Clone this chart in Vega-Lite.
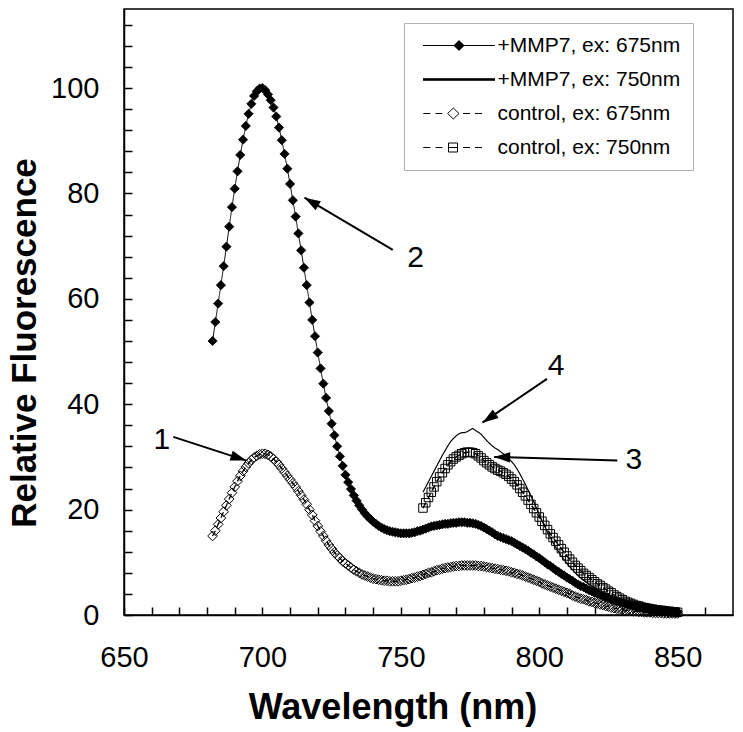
{
  "$schema": "https://vega.github.io/schema/vega-lite/v6.json",
  "width": 609,
  "height": 606,
  "autosize": {"type": "none"},
  "padding": {"left": 124, "top": 9, "right": 10, "bottom": 117},
  "config": {
    "view": {"stroke": "black", "strokeWidth": 1.5},
    "font": "Liberation Sans",
    "legend": {
      "orient": "none", "title": null, "padding": 12, "strokeColor": "#b0b0b0", "fillColor": "white",
      "labelFont": "Liberation Sans", "labelFontSize": 21, "labelColor": "black", "labelLimit": 0,
      "rowPadding": 12, "symbolSize": 400, "symbolStrokeWidth": 1, "symbolOpacity": 1,
      "symbolOffset": 32.5, "labelOffset": 28
    }
  },
  "resolve": {"axis": {"x": "independent", "y": "independent"}, "scale": {"shape": "independent"}, "legend": {"shape": "independent"}},
  "datasets": {
    "ann": [
      {"lab": "1", "tx": 663.7, "ty": 33.3, "x1": 667.8, "y1": 33.8, "x2": 694.2, "y2": 29.3},
      {"lab": "2", "tx": 755.3, "ty": 67.8, "x1": 747.1, "y1": 69.3, "x2": 715.2, "y2": 79.2},
      {"lab": "3", "tx": 834.2, "ty": 29.5, "x1": 828.2, "y1": 29.3, "x2": 783.7, "y2": 30.0},
      {"lab": "4", "tx": 806.1, "ty": 47.2, "x1": 802.8, "y1": 44.8, "x2": 779.5, "y2": 36.5}
    ],
    "spec": [
      {"s":"a","w":682,"v":52.0},{"s":"a","w":683,"v":55.6},{"s":"a","w":684,"v":59.1},{"s":"a","w":685,"v":62.6},{"s":"a","w":686,"v":66.2},{"s":"a","w":687,"v":69.9},{"s":"a","w":688,"v":73.7},{"s":"a","w":689,"v":77.4},{"s":"a","w":690,"v":80.9},{"s":"a","w":691,"v":84.2},
      {"s":"a","w":692,"v":87.3},{"s":"a","w":693,"v":90.2},{"s":"a","w":694,"v":92.8},{"s":"a","w":695,"v":95.1},{"s":"a","w":696,"v":97.0},{"s":"a","w":697,"v":98.5},{"s":"a","w":698,"v":99.4},{"s":"a","w":699,"v":99.9},{"s":"a","w":700,"v":100},{"s":"a","w":701,"v":99.6},
      {"s":"a","w":702,"v":98.8},{"s":"a","w":703,"v":97.7},{"s":"a","w":704,"v":96.3},{"s":"a","w":705,"v":94.6},{"s":"a","w":706,"v":92.5},{"s":"a","w":707,"v":90.1},{"s":"a","w":708,"v":87.5},{"s":"a","w":709,"v":84.7},{"s":"a","w":710,"v":81.8},{"s":"a","w":711,"v":78.7},
      {"s":"a","w":712,"v":75.6},{"s":"a","w":713,"v":72.4},{"s":"a","w":714,"v":69.2},{"s":"a","w":715,"v":65.9},{"s":"a","w":716,"v":62.6},{"s":"a","w":717,"v":59.3},{"s":"a","w":718,"v":56.0},{"s":"a","w":719,"v":52.9},{"s":"a","w":720,"v":49.8},{"s":"a","w":721,"v":46.8},
      {"s":"a","w":722,"v":43.9},{"s":"a","w":723,"v":41.2},{"s":"a","w":724,"v":38.7},{"s":"a","w":725,"v":36.3},{"s":"a","w":726,"v":34.1},{"s":"a","w":727,"v":32.0},{"s":"a","w":728,"v":30.1},{"s":"a","w":729,"v":28.3},{"s":"a","w":730,"v":26.6},{"s":"a","w":731,"v":25.2},
      {"s":"a","w":732,"v":23.9},{"s":"a","w":733,"v":22.7},{"s":"a","w":734,"v":21.7},{"s":"a","w":735,"v":20.8},{"s":"a","w":736,"v":20.0},{"s":"a","w":737,"v":19.3},{"s":"a","w":738,"v":18.7},{"s":"a","w":739,"v":18.2},{"s":"a","w":740,"v":17.7},{"s":"a","w":741,"v":17.3},
      {"s":"a","w":742,"v":16.9},{"s":"a","w":743,"v":16.6},{"s":"a","w":744,"v":16.3},{"s":"a","w":745,"v":16.1},{"s":"a","w":746,"v":15.9},{"s":"a","w":747,"v":15.8},{"s":"a","w":748,"v":15.7},{"s":"a","w":749,"v":15.6},{"s":"a","w":750,"v":15.5},{"s":"a","w":751,"v":15.5},
      {"s":"a","w":752,"v":15.5},{"s":"a","w":753,"v":15.5},{"s":"a","w":754,"v":15.6},{"s":"a","w":755,"v":15.7},{"s":"a","w":756,"v":15.9},{"s":"a","w":757,"v":16.0},{"s":"a","w":758,"v":16.2},{"s":"a","w":759,"v":16.4},{"s":"a","w":760,"v":16.6},{"s":"a","w":761,"v":16.8},
      {"s":"a","w":762,"v":16.9},{"s":"a","w":763,"v":17.0},{"s":"a","w":764,"v":17.1},{"s":"a","w":765,"v":17.2},{"s":"a","w":766,"v":17.3},{"s":"a","w":767,"v":17.3},{"s":"a","w":768,"v":17.4},{"s":"a","w":769,"v":17.5},{"s":"a","w":770,"v":17.5},{"s":"a","w":771,"v":17.6},
      {"s":"a","w":772,"v":17.6},{"s":"a","w":773,"v":17.6},{"s":"a","w":774,"v":17.5},{"s":"a","w":775,"v":17.5},{"s":"a","w":776,"v":17.4},{"s":"a","w":777,"v":17.3},{"s":"a","w":778,"v":17.1},{"s":"a","w":779,"v":16.9},{"s":"a","w":780,"v":16.6},{"s":"a","w":781,"v":16.3},
      {"s":"a","w":782,"v":16.0},{"s":"a","w":783,"v":15.7},{"s":"a","w":784,"v":15.3},{"s":"a","w":785,"v":15.0},{"s":"a","w":786,"v":14.8},{"s":"a","w":787,"v":14.6},{"s":"a","w":788,"v":14.4},{"s":"a","w":789,"v":14.2},{"s":"a","w":790,"v":14.0},{"s":"a","w":791,"v":13.7},
      {"s":"a","w":792,"v":13.4},{"s":"a","w":793,"v":13.1},{"s":"a","w":794,"v":12.8},{"s":"a","w":795,"v":12.5},{"s":"a","w":796,"v":12.2},{"s":"a","w":797,"v":11.8},{"s":"a","w":798,"v":11.5},{"s":"a","w":799,"v":11.1},{"s":"a","w":800,"v":10.8},{"s":"a","w":801,"v":10.4},
      {"s":"a","w":802,"v":10.0},{"s":"a","w":803,"v":9.6},{"s":"a","w":804,"v":9.3},{"s":"a","w":805,"v":8.9},{"s":"a","w":806,"v":8.5},{"s":"a","w":807,"v":8.2},{"s":"a","w":808,"v":7.8},{"s":"a","w":809,"v":7.5},{"s":"a","w":810,"v":7.1},{"s":"a","w":811,"v":6.8},
      {"s":"a","w":812,"v":6.5},{"s":"a","w":813,"v":6.1},{"s":"a","w":814,"v":5.8},{"s":"a","w":815,"v":5.5},{"s":"a","w":816,"v":5.3},{"s":"a","w":817,"v":5.0},{"s":"a","w":818,"v":4.7},{"s":"a","w":819,"v":4.5},{"s":"a","w":820,"v":4.2},{"s":"a","w":821,"v":4.0},
      {"s":"a","w":822,"v":3.8},{"s":"a","w":823,"v":3.6},{"s":"a","w":824,"v":3.4},{"s":"a","w":825,"v":3.2},{"s":"a","w":826,"v":3.0},{"s":"a","w":827,"v":2.8},{"s":"a","w":828,"v":2.6},{"s":"a","w":829,"v":2.5},{"s":"a","w":830,"v":2.3},{"s":"a","w":831,"v":2.2},
      {"s":"a","w":832,"v":2.0},{"s":"a","w":833,"v":1.9},{"s":"a","w":834,"v":1.8},{"s":"a","w":835,"v":1.7},{"s":"a","w":836,"v":1.6},{"s":"a","w":837,"v":1.5},{"s":"a","w":838,"v":1.4},{"s":"a","w":839,"v":1.3},{"s":"a","w":840,"v":1.2},{"s":"a","w":841,"v":1.1},
      {"s":"a","w":842,"v":1.0},{"s":"a","w":843,"v":1.0},{"s":"a","w":844,"v":0.9},{"s":"a","w":845,"v":0.8},{"s":"a","w":846,"v":0.8},{"s":"a","w":847,"v":0.7},{"s":"a","w":848,"v":0.7},{"s":"a","w":849,"v":0.6},{"s":"a","w":850,"v":0.6},

      {"s":"b","w":758,"v":23.3},{"s":"b","w":759,"v":24.3},{"s":"b","w":760,"v":25.3},{"s":"b","w":761,"v":26.3},{"s":"b","w":762,"v":27.3},{"s":"b","w":763,"v":28.3},{"s":"b","w":764,"v":29.3},{"s":"b","w":765,"v":30.3},{"s":"b","w":766,"v":31.2},{"s":"b","w":767,"v":32.1},
      {"s":"b","w":768,"v":32.9},{"s":"b","w":769,"v":33.5},{"s":"b","w":770,"v":34.0},{"s":"b","w":771,"v":34.4},{"s":"b","w":772,"v":34.6},{"s":"b","w":773,"v":34.6},{"s":"b","w":774,"v":34.8},{"s":"b","w":775,"v":35.1},{"s":"b","w":776,"v":35.4},{"s":"b","w":777,"v":35.0},
      {"s":"b","w":778,"v":34.7},{"s":"b","w":779,"v":34.3},{"s":"b","w":780,"v":33.7},{"s":"b","w":781,"v":33.1},{"s":"b","w":782,"v":32.6},{"s":"b","w":783,"v":32.1},{"s":"b","w":784,"v":31.7},{"s":"b","w":785,"v":31.4},{"s":"b","w":786,"v":31.0},{"s":"b","w":787,"v":30.6},
      {"s":"b","w":788,"v":30.2},{"s":"b","w":789,"v":29.7},{"s":"b","w":790,"v":29.1},{"s":"b","w":791,"v":28.5},{"s":"b","w":792,"v":27.7},{"s":"b","w":793,"v":26.8},{"s":"b","w":794,"v":25.8},{"s":"b","w":795,"v":24.8},{"s":"b","w":796,"v":23.7},{"s":"b","w":797,"v":22.6},
      {"s":"b","w":798,"v":21.5},{"s":"b","w":799,"v":20.3},{"s":"b","w":800,"v":19.1},{"s":"b","w":801,"v":17.9},{"s":"b","w":802,"v":16.8},{"s":"b","w":803,"v":15.7},{"s":"b","w":804,"v":14.7},{"s":"b","w":805,"v":13.7},{"s":"b","w":806,"v":12.8},{"s":"b","w":807,"v":12.0},
      {"s":"b","w":808,"v":11.2},{"s":"b","w":809,"v":10.5},{"s":"b","w":810,"v":9.8},{"s":"b","w":811,"v":9.2},{"s":"b","w":812,"v":8.6},{"s":"b","w":813,"v":8.0},{"s":"b","w":814,"v":7.5},{"s":"b","w":815,"v":7.0},{"s":"b","w":816,"v":6.6},{"s":"b","w":817,"v":6.2},
      {"s":"b","w":818,"v":5.8},{"s":"b","w":819,"v":5.5},{"s":"b","w":820,"v":5.2},{"s":"b","w":821,"v":4.9},{"s":"b","w":822,"v":4.6},{"s":"b","w":823,"v":4.3},{"s":"b","w":824,"v":4.0},{"s":"b","w":825,"v":3.8},{"s":"b","w":826,"v":3.5},{"s":"b","w":827,"v":3.3},
      {"s":"b","w":828,"v":3.1},{"s":"b","w":829,"v":2.9},{"s":"b","w":830,"v":2.7},{"s":"b","w":831,"v":2.5},{"s":"b","w":832,"v":2.3},{"s":"b","w":833,"v":2.2},{"s":"b","w":834,"v":2.0},{"s":"b","w":835,"v":1.9},{"s":"b","w":836,"v":1.7},{"s":"b","w":837,"v":1.6},
      {"s":"b","w":838,"v":1.5},{"s":"b","w":839,"v":1.4},{"s":"b","w":840,"v":1.3},{"s":"b","w":841,"v":1.2},{"s":"b","w":842,"v":1.1},{"s":"b","w":843,"v":1.0},{"s":"b","w":844,"v":0.9},{"s":"b","w":845,"v":0.9},{"s":"b","w":846,"v":0.8},{"s":"b","w":847,"v":0.7},
      {"s":"b","w":848,"v":0.7},{"s":"b","w":849,"v":0.6},{"s":"b","w":850,"v":0.6},

      {"s":"c","w":682,"v":15.0},{"s":"c","w":683,"v":16.0},{"s":"c","w":684,"v":17.2},{"s":"c","w":685,"v":18.4},{"s":"c","w":686,"v":19.6},{"s":"c","w":687,"v":20.8},{"s":"c","w":688,"v":22.0},{"s":"c","w":689,"v":23.2},{"s":"c","w":690,"v":24.3},{"s":"c","w":691,"v":25.4},
      {"s":"c","w":692,"v":26.4},{"s":"c","w":693,"v":27.3},{"s":"c","w":694,"v":28.1},{"s":"c","w":695,"v":28.8},{"s":"c","w":696,"v":29.4},{"s":"c","w":697,"v":29.9},{"s":"c","w":698,"v":30.2},{"s":"c","w":699,"v":30.5},{"s":"c","w":700,"v":30.6},{"s":"c","w":701,"v":30.6},
      {"s":"c","w":702,"v":30.4},{"s":"c","w":703,"v":30.1},{"s":"c","w":704,"v":29.6},{"s":"c","w":705,"v":29.1},{"s":"c","w":706,"v":28.5},{"s":"c","w":707,"v":27.8},{"s":"c","w":708,"v":27.1},{"s":"c","w":709,"v":26.4},{"s":"c","w":710,"v":25.7},{"s":"c","w":711,"v":25.0},
      {"s":"c","w":712,"v":24.3},{"s":"c","w":713,"v":23.5},{"s":"c","w":714,"v":22.7},{"s":"c","w":715,"v":21.9},{"s":"c","w":716,"v":21.0},{"s":"c","w":717,"v":20.0},{"s":"c","w":718,"v":19.0},{"s":"c","w":719,"v":17.9},{"s":"c","w":720,"v":16.9},{"s":"c","w":721,"v":15.9},
      {"s":"c","w":722,"v":15.0},{"s":"c","w":723,"v":14.1},{"s":"c","w":724,"v":13.3},{"s":"c","w":725,"v":12.6},{"s":"c","w":726,"v":11.9},{"s":"c","w":727,"v":11.3},{"s":"c","w":728,"v":10.8},{"s":"c","w":729,"v":10.2},{"s":"c","w":730,"v":9.8},{"s":"c","w":731,"v":9.4},
      {"s":"c","w":732,"v":9.0},{"s":"c","w":733,"v":8.6},{"s":"c","w":734,"v":8.3},{"s":"c","w":735,"v":8.0},{"s":"c","w":736,"v":7.7},{"s":"c","w":737,"v":7.5},{"s":"c","w":738,"v":7.3},{"s":"c","w":739,"v":7.1},{"s":"c","w":740,"v":6.9},{"s":"c","w":741,"v":6.8},
      {"s":"c","w":742,"v":6.7},{"s":"c","w":743,"v":6.6},{"s":"c","w":744,"v":6.5},{"s":"c","w":745,"v":6.5},{"s":"c","w":746,"v":6.4},{"s":"c","w":747,"v":6.4},{"s":"c","w":748,"v":6.4},{"s":"c","w":749,"v":6.4},{"s":"c","w":750,"v":6.5},{"s":"c","w":751,"v":6.6},
      {"s":"c","w":752,"v":6.7},{"s":"c","w":753,"v":6.8},{"s":"c","w":754,"v":7.0},{"s":"c","w":755,"v":7.1},{"s":"c","w":756,"v":7.3},{"s":"c","w":757,"v":7.4},{"s":"c","w":758,"v":7.6},{"s":"c","w":759,"v":7.8},{"s":"c","w":760,"v":8.0},{"s":"c","w":761,"v":8.1},
      {"s":"c","w":762,"v":8.3},{"s":"c","w":763,"v":8.5},{"s":"c","w":764,"v":8.6},{"s":"c","w":765,"v":8.8},{"s":"c","w":766,"v":8.9},{"s":"c","w":767,"v":9.0},{"s":"c","w":768,"v":9.1},{"s":"c","w":769,"v":9.2},{"s":"c","w":770,"v":9.3},{"s":"c","w":771,"v":9.3},
      {"s":"c","w":772,"v":9.4},{"s":"c","w":773,"v":9.4},{"s":"c","w":774,"v":9.4},{"s":"c","w":775,"v":9.4},{"s":"c","w":776,"v":9.4},{"s":"c","w":777,"v":9.4},{"s":"c","w":778,"v":9.3},{"s":"c","w":779,"v":9.3},{"s":"c","w":780,"v":9.2},{"s":"c","w":781,"v":9.1},
      {"s":"c","w":782,"v":9.0},{"s":"c","w":783,"v":8.9},{"s":"c","w":784,"v":8.8},{"s":"c","w":785,"v":8.7},{"s":"c","w":786,"v":8.6},{"s":"c","w":787,"v":8.5},{"s":"c","w":788,"v":8.4},{"s":"c","w":789,"v":8.3},{"s":"c","w":790,"v":8.1},{"s":"c","w":791,"v":8.0},
      {"s":"c","w":792,"v":7.8},{"s":"c","w":793,"v":7.7},{"s":"c","w":794,"v":7.5},{"s":"c","w":795,"v":7.3},{"s":"c","w":796,"v":7.1},{"s":"c","w":797,"v":6.9},{"s":"c","w":798,"v":6.7},{"s":"c","w":799,"v":6.5},{"s":"c","w":800,"v":6.3},{"s":"c","w":801,"v":6.0},
      {"s":"c","w":802,"v":5.8},{"s":"c","w":803,"v":5.6},{"s":"c","w":804,"v":5.4},{"s":"c","w":805,"v":5.2},{"s":"c","w":806,"v":5.0},{"s":"c","w":807,"v":4.8},{"s":"c","w":808,"v":4.6},{"s":"c","w":809,"v":4.4},{"s":"c","w":810,"v":4.2},{"s":"c","w":811,"v":4.0},
      {"s":"c","w":812,"v":3.7},{"s":"c","w":813,"v":3.5},{"s":"c","w":814,"v":3.3},{"s":"c","w":815,"v":3.1},{"s":"c","w":816,"v":3.0},{"s":"c","w":817,"v":2.8},{"s":"c","w":818,"v":2.6},{"s":"c","w":819,"v":2.5},{"s":"c","w":820,"v":2.3},{"s":"c","w":821,"v":2.2},
      {"s":"c","w":822,"v":2.0},{"s":"c","w":823,"v":1.9},{"s":"c","w":824,"v":1.7},{"s":"c","w":825,"v":1.6},{"s":"c","w":826,"v":1.4},{"s":"c","w":827,"v":1.3},{"s":"c","w":828,"v":1.2},{"s":"c","w":829,"v":1.1},{"s":"c","w":830,"v":1.0},{"s":"c","w":831,"v":0.9},
      {"s":"c","w":832,"v":0.9},{"s":"c","w":833,"v":0.8},{"s":"c","w":834,"v":0.7},{"s":"c","w":835,"v":0.7},{"s":"c","w":836,"v":0.6},{"s":"c","w":837,"v":0.6},{"s":"c","w":838,"v":0.5},{"s":"c","w":839,"v":0.5},{"s":"c","w":840,"v":0.5},{"s":"c","w":841,"v":0.4},
      {"s":"c","w":842,"v":0.4},{"s":"c","w":843,"v":0.4},{"s":"c","w":844,"v":0.4},{"s":"c","w":845,"v":0.3},{"s":"c","w":846,"v":0.3},{"s":"c","w":847,"v":0.3},{"s":"c","w":848,"v":0.3},{"s":"c","w":849,"v":0.3},{"s":"c","w":850,"v":0.3},

      {"s":"d","w":758,"v":20.3},{"s":"d","w":759,"v":21.3},{"s":"d","w":760,"v":22.3},{"s":"d","w":761,"v":23.3},{"s":"d","w":762,"v":24.3},{"s":"d","w":763,"v":25.3},{"s":"d","w":764,"v":26.2},{"s":"d","w":765,"v":27.0},{"s":"d","w":766,"v":27.8},{"s":"d","w":767,"v":28.5},
      {"s":"d","w":768,"v":29.1},{"s":"d","w":769,"v":29.6},{"s":"d","w":770,"v":30.0},{"s":"d","w":771,"v":30.3},{"s":"d","w":772,"v":30.6},{"s":"d","w":773,"v":30.8},{"s":"d","w":774,"v":30.9},{"s":"d","w":775,"v":30.9},{"s":"d","w":776,"v":30.8},{"s":"d","w":777,"v":30.6},
      {"s":"d","w":778,"v":30.2},{"s":"d","w":779,"v":29.8},{"s":"d","w":780,"v":29.3},{"s":"d","w":781,"v":28.9},{"s":"d","w":782,"v":28.5},{"s":"d","w":783,"v":28.1},{"s":"d","w":784,"v":27.8},{"s":"d","w":785,"v":27.5},{"s":"d","w":786,"v":27.3},{"s":"d","w":787,"v":27.0},
      {"s":"d","w":788,"v":26.7},{"s":"d","w":789,"v":26.3},{"s":"d","w":790,"v":25.8},{"s":"d","w":791,"v":25.3},{"s":"d","w":792,"v":24.7},{"s":"d","w":793,"v":24.0},{"s":"d","w":794,"v":23.3},{"s":"d","w":795,"v":22.6},{"s":"d","w":796,"v":21.8},{"s":"d","w":797,"v":21.0},
      {"s":"d","w":798,"v":20.2},{"s":"d","w":799,"v":19.4},{"s":"d","w":800,"v":18.6},{"s":"d","w":801,"v":17.8},{"s":"d","w":802,"v":17.0},{"s":"d","w":803,"v":16.2},{"s":"d","w":804,"v":15.4},{"s":"d","w":805,"v":14.7},{"s":"d","w":806,"v":14.0},{"s":"d","w":807,"v":13.3},
      {"s":"d","w":808,"v":12.6},{"s":"d","w":809,"v":11.9},{"s":"d","w":810,"v":11.2},{"s":"d","w":811,"v":10.6},{"s":"d","w":812,"v":10.0},{"s":"d","w":813,"v":9.4},{"s":"d","w":814,"v":8.9},{"s":"d","w":815,"v":8.4},{"s":"d","w":816,"v":7.9},{"s":"d","w":817,"v":7.5},
      {"s":"d","w":818,"v":7.1},{"s":"d","w":819,"v":6.7},{"s":"d","w":820,"v":6.3},{"s":"d","w":821,"v":5.9},{"s":"d","w":822,"v":5.6},{"s":"d","w":823,"v":5.2},{"s":"d","w":824,"v":4.9},{"s":"d","w":825,"v":4.5},{"s":"d","w":826,"v":4.2},{"s":"d","w":827,"v":3.8},
      {"s":"d","w":828,"v":3.5},{"s":"d","w":829,"v":3.2},{"s":"d","w":830,"v":2.9},{"s":"d","w":831,"v":2.6},{"s":"d","w":832,"v":2.4},{"s":"d","w":833,"v":2.2},{"s":"d","w":834,"v":2.0},{"s":"d","w":835,"v":1.8},{"s":"d","w":836,"v":1.7},{"s":"d","w":837,"v":1.5},
      {"s":"d","w":838,"v":1.4},{"s":"d","w":839,"v":1.3},{"s":"d","w":840,"v":1.2},{"s":"d","w":841,"v":1.1},{"s":"d","w":842,"v":1.0},{"s":"d","w":843,"v":0.9},{"s":"d","w":844,"v":0.9},{"s":"d","w":845,"v":0.8},{"s":"d","w":846,"v":0.7},{"s":"d","w":847,"v":0.7},
      {"s":"d","w":848,"v":0.6},{"s":"d","w":849,"v":0.6},{"s":"d","w":850,"v":0.5}
    ]
  },
  "layer": [
    {
      "data": {"name": "spec"},
      "mark": {"type": "line", "color": "black", "clip": false},
      "encoding": {
        "x": {
          "field": "w", "type": "quantitative",
          "scale": {"domain": [650, 870], "nice": false, "zero": false},
          "axis": {
            "orient": "bottom", "title": "Wavelength (nm)", "values": [650, 700, 750, 800, 850], "grid": false,
            "tickSize": -8, "tickColor": "black", "tickWidth": 1.5, "domainColor": "black", "domainWidth": 1.5,
            "labelFont": "Liberation Sans", "labelFontSize": 29, "labelColor": "black",
            "labelPadding": 36, "labelFlush": false, "labelOverlap": false, "labelBound": false,
            "titleFont": "Liberation Sans", "titleFontSize": 36, "titleFontWeight": "bold", "titleColor": "black",
            "titleX": 268.5, "titleY": 103, "titleAlign": "center", "titleBaseline": "alphabetic"
          }
        },
        "y": {
          "field": "v", "type": "quantitative",
          "scale": {"domain": [0, 115], "nice": false, "zero": false},
          "axis": {
            "orient": "left", "title": "Relative Fluorescence", "values": [0, 20, 40, 60, 80, 100], "grid": false,
            "tickSize": -8, "tickColor": "black", "tickWidth": 1.5, "domainColor": "black", "domainWidth": 1.5,
            "labelFont": "Liberation Sans", "labelFontSize": 29, "labelColor": "black",
            "labelPadding": 33, "labelFlush": false, "labelOverlap": false, "labelBound": false,
            "titleFont": "Liberation Sans", "titleFontSize": 35, "titleFontWeight": "bold", "titleColor": "black",
            "titleX": -100, "titleY": 333.5, "titleAngle": 270, "titleAlign": "center", "titleBaseline": "middle"
          }
        },
        "strokeDash": {"field": "s", "type": "nominal", "scale": {"domain": ["a", "b", "c", "d"], "range": [[1, 0], [1, 0], [6, 4], [6, 4]]}, "legend": null},
        "strokeWidth": {"field": "s", "type": "nominal", "scale": {"domain": ["a", "b", "c", "d"], "range": [1, 1.5, 1, 1]}, "legend": null}
      }
    },
    {
      "data": {"name": "spec"},
      "transform": [{"filter": "datum.s === 'c'"}],
      "mark": {"type": "point", "shape": "diamond", "filled": false, "stroke": "black", "strokeWidth": 1, "size": 95, "opacity": 1, "clip": false},
      "encoding": {
        "x": {
          "field": "w", "type": "quantitative", "scale": {"domain": [650, 870], "nice": false, "zero": false},
          "axis": {"orient": "bottom", "title": null, "values": [660,670,680,690,710,720,730,740,760,770,780,790,810,820,830,840,860], "labels": false, "domain": false, "grid": false, "tickSize": -8, "tickColor": "black", "tickWidth": 1.5}
        },
        "y": {
          "field": "v", "type": "quantitative", "scale": {"domain": [0, 115], "nice": false, "zero": false},
          "axis": {"orient": "left", "title": null, "values": [4,8,12,16,24,28,32,36,44,48,52,56,64,68,72,76,84,88,92,96,104,108,112], "labels": false, "domain": false, "grid": false, "tickSize": -8, "tickColor": "black", "tickWidth": 1.5}
        }
      }
    },
    {
      "data": {"name": "spec"},
      "transform": [{"filter": "datum.s === 'd'"}],
      "mark": {"type": "point", "shape": "square", "filled": false, "stroke": "black", "strokeWidth": 1, "size": 72, "opacity": 1, "clip": false},
      "encoding": {
        "x": {"field": "w", "type": "quantitative", "scale": {"domain": [650, 870], "nice": false, "zero": false}, "axis": null},
        "y": {"field": "v", "type": "quantitative", "scale": {"domain": [0, 115], "nice": false, "zero": false}, "axis": null}
      }
    },
    {
      "data": {"name": "spec"},
      "transform": [{"filter": "datum.s === 'a'"}],
      "mark": {"type": "point", "shape": "diamond", "filled": true, "fill": "black", "stroke": "black", "strokeWidth": 0.8, "size": 85, "opacity": 1, "clip": false},
      "encoding": {
        "x": {"field": "w", "type": "quantitative", "scale": {"domain": [650, 870], "nice": false, "zero": false}, "axis": null},
        "y": {"field": "v", "type": "quantitative", "scale": {"domain": [0, 115], "nice": false, "zero": false}, "axis": null}
      }
    },
    {
      "data": {"name": "spec"},
      "transform": [{"filter": "datum.w < 0"}],
      "mark": {"type": "point", "filled": true, "fill": "white", "stroke": "black", "strokeWidth": 1, "opacity": 1},
      "encoding": {
        "x": {"field": "w", "type": "quantitative", "scale": {"domain": [650, 870], "nice": false, "zero": false}, "axis": null},
        "y": {"field": "v", "type": "quantitative", "scale": {"domain": [0, 115], "nice": false, "zero": false}, "axis": null},
        "shape": {
          "field": "s", "type": "nominal",
          "scale": {
            "domain": ["a", "b", "c", "d"],
            "range": [
              "M-4.3,0M-3.6,0L3.6,0M0,-0.5L0.5,0L0,0.5L-0.5,0ZM-0.1,-0.4L0.1,-0.4M-0.2,-0.3L0.2,-0.3M-0.3,-0.2L0.3,-0.2M-0.4,-0.1L0.4,-0.1M-0.4,0.1L0.4,0.1M-0.3,0.2L0.3,0.2M-0.2,0.3L0.2,0.3M-0.1,0.4L0.1,0.4",
              "M-4.3,0M-3.6,-0.08L3.6,-0.08M-3.6,0L3.6,0M-3.6,0.08L3.6,0.08",
              "M-4.3,0M-3.57,0L-2.87,0M-2.35,0L-1.66,0M-0.57,-0.55L0,0L-0.57,0.55L-1.14,0ZM0.4,0L1.1,0M1.6,0L2.3,0",
              "M-4.3,0M-3.57,0L-2.87,0M-2.35,0L-1.66,0M-1.05,-0.45L-0.15,-0.45L-0.15,0.45L-1.05,0.45ZM-1.05,0L-0.15,0M0.4,0L1.1,0M1.6,0L2.3,0"
            ]
          },
          "legend": {
            "legendX": 280, "legendY": 14,
            "labelExpr": "datum.value === 'a' ? '+MMP7, ex: 675nm' : datum.value === 'b' ? '+MMP7, ex: 750nm' : datum.value === 'c' ? '\u00a0control, ex: 675nm' : '\u00a0control, ex: 750nm'"
          }
        }
      }
    },
    {
      "data": {"name": "ann"},
      "mark": {"type": "rule", "color": "black", "strokeWidth": 2},
      "encoding": {
        "x": {"field": "x1", "type": "quantitative", "scale": {"domain": [650, 870], "nice": false, "zero": false}, "axis": null},
        "y": {"field": "y1", "type": "quantitative", "scale": {"domain": [0, 115], "nice": false, "zero": false}, "axis": null},
        "x2": {"field": "x2"},
        "y2": {"field": "y2"}
      }
    },
    {
      "data": {"name": "ann"},
      "transform": [
        {"calculate": "atan2(scale('y', datum.y2) - scale('y', datum.y1), scale('x', datum.x2) - scale('x', datum.x1)) * 180 / PI", "as": "ang"}
      ],
      "mark": {"type": "point", "shape": "M0,0L-2,-0.65L-2,0.65Z", "filled": true, "color": "black", "size": 256, "opacity": 1},
      "encoding": {
        "x": {"field": "x2", "type": "quantitative", "scale": {"domain": [650, 870], "nice": false, "zero": false}, "axis": null},
        "y": {"field": "y2", "type": "quantitative", "scale": {"domain": [0, 115], "nice": false, "zero": false}, "axis": null},
        "angle": {"field": "ang", "type": "quantitative", "scale": null}
      }
    },
    {
      "data": {"name": "ann"},
      "mark": {"type": "text", "font": "Liberation Sans", "fontSize": 30, "align": "center", "baseline": "middle", "color": "black"},
      "encoding": {
        "x": {"field": "tx", "type": "quantitative", "scale": {"domain": [650, 870], "nice": false, "zero": false}, "axis": null},
        "y": {"field": "ty", "type": "quantitative", "scale": {"domain": [0, 115], "nice": false, "zero": false}, "axis": null},
        "text": {"field": "lab"}
      }
    }
  ]
}
